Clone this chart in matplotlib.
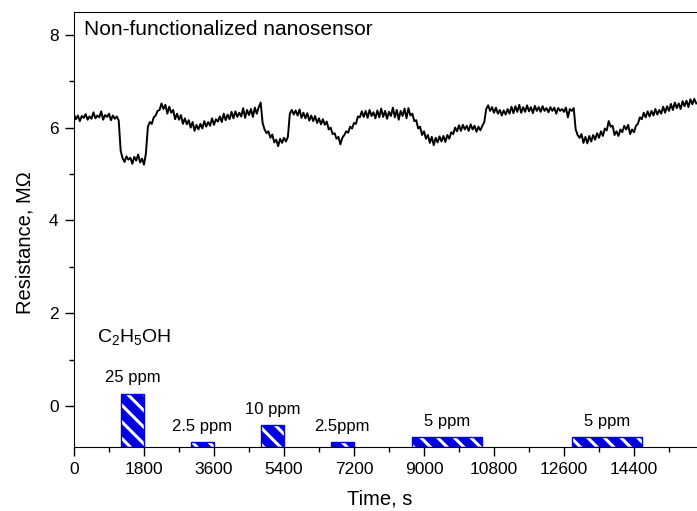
import numpy as np
import matplotlib.pyplot as plt
from matplotlib.ticker import MultipleLocator

plt.rcParams['font.family'] = ['Liberation Sans', 'DejaVu Sans']
plt.rcParams['mathtext.default'] = 'regular'
plt.rcParams['hatch.linewidth'] = 2.2
plt.rcParams['hatch.color'] = 'white'

# Resistance trace (MOhm), one reading every 50 s.
# Each row covers 500 s.
resistance = [
    6.28, 6.18, 6.26, 6.14, 6.25, 6.21, 6.29, 6.17, 6.24, 6.19,   # 0
    6.33, 6.20, 6.26, 6.22, 6.35, 6.17, 6.27, 6.23, 6.30, 6.16,   # 500
    6.26, 6.19, 6.24, 6.15, 5.50, 5.34, 5.26, 5.38, 5.31, 5.35,   # 1000
    5.22, 5.37, 5.29, 5.42, 5.25, 5.33, 5.20, 5.45, 6.02, 6.12,   # 1500
    6.08, 6.22, 6.26, 6.36, 6.38, 6.52, 6.40, 6.49, 6.30, 6.45,   # 2000
    6.32, 6.38, 6.18, 6.30, 6.17, 6.27, 6.08, 6.20, 6.07, 6.16,   # 2500
    6.00, 6.12, 5.93, 6.06, 5.96, 6.08, 5.98, 6.14, 6.02, 6.12,   # 3000
    6.04, 6.20, 6.06, 6.18, 6.13, 6.24, 6.12, 6.30, 6.16, 6.28,   # 3500
    6.18, 6.34, 6.20, 6.35, 6.23, 6.32, 6.24, 6.42, 6.21, 6.38,   # 4000
    6.27, 6.40, 6.23, 6.43, 6.30, 6.44, 6.54, 6.10, 5.96, 5.88,   # 4500
    5.92, 5.78, 5.85, 5.68, 5.74, 5.60, 5.76, 5.67, 5.78, 5.70,   # 5000
    5.80, 6.30, 6.38, 6.28, 6.37, 6.26, 6.39, 6.21, 6.32, 6.20,   # 5500
    6.31, 6.15, 6.26, 6.14, 6.25, 6.10, 6.20, 6.07, 6.18, 6.06,   # 6000
    6.13, 5.96, 6.00, 5.86, 5.88, 5.76, 5.80, 5.64, 5.78, 5.84,   # 6500
    5.92, 5.89, 6.02, 5.98, 6.10, 6.08, 6.24, 6.22, 6.35, 6.23,   # 7000
    6.36, 6.21, 6.38, 6.25, 6.33, 6.20, 6.37, 6.22, 6.41, 6.23,   # 7500
    6.36, 6.19, 6.34, 6.25, 6.43, 6.22, 6.38, 6.17, 6.36, 6.25,   # 8000
    6.41, 6.20, 6.42, 6.26, 6.30, 6.14, 6.16, 5.98, 6.02, 5.84,   # 8500
    5.92, 5.76, 5.84, 5.67, 5.80, 5.62, 5.78, 5.68, 5.81, 5.70,   # 9000
    5.82, 5.69, 5.84, 5.76, 5.90, 5.86, 6.00, 5.92, 6.05, 5.93,   # 9500
    6.06, 5.96, 6.04, 5.93, 6.07, 5.96, 6.04, 5.91, 6.02, 5.94,   # 10000
    6.04, 6.12, 6.40, 6.48, 6.36, 6.44, 6.32, 6.43, 6.30, 6.38,   # 10500
    6.26, 6.37, 6.28, 6.40, 6.30, 6.45, 6.31, 6.46, 6.34, 6.49,   # 11000
    6.32, 6.44, 6.34, 6.48, 6.35, 6.44, 6.31, 6.47, 6.36, 6.44,   # 11500
    6.34, 6.46, 6.36, 6.42, 6.33, 6.44, 6.36, 6.43, 6.30, 6.42,   # 12000
    6.36, 6.40, 6.34, 6.43, 6.22, 6.40, 6.36, 6.42, 5.96, 5.84,   # 12500
    5.78, 5.86, 5.67, 5.80, 5.66, 5.82, 5.70, 5.84, 5.74, 5.88,   # 13000
    5.78, 5.92, 5.82, 5.98, 5.94, 6.14, 6.02, 6.04, 5.84, 5.92,   # 13500
    5.82, 5.96, 5.90, 6.04, 5.96, 6.06, 5.86, 5.96, 5.90, 6.04,   # 14000
    6.08, 6.22, 6.18, 6.32, 6.22, 6.35, 6.24, 6.36, 6.26, 6.40,   # 14500
    6.28, 6.38, 6.30, 6.45, 6.32, 6.46, 6.36, 6.51, 6.38, 6.54,   # 15000
    6.42, 6.52, 6.40, 6.57, 6.46, 6.58, 6.44, 6.61, 6.50, 6.62,   # 15500
    6.52,                                                         # 16000
]
time_s = np.arange(len(resistance)) * 50

# Gas pulses: start, end (s), bar top (axis units), label
pulse_start = [1200, 3000, 4800, 6600, 8700, 12800]
pulse_end = [1800, 3600, 5400, 7200, 10500, 14600]
pulse_top = [0.27, -0.78, -0.415, -0.78, -0.66, -0.66]
pulse_label = ['25 ppm', '2.5 ppm', '10 ppm', '2.5ppm', '5 ppm', '5 ppm']

y_bottom = -0.88

fig = plt.figure(figsize=(6.97, 5.11), dpi=100)
ax = fig.add_axes([74 / 697, 64 / 511, 623 / 697, 435 / 511])

ax.plot(time_s, resistance, color='black', linewidth=1.4)

starts = np.array(pulse_start)
widths = np.array(pulse_end) - starts
heights = np.array(pulse_top) - y_bottom
ax.bar(starts, heights, width=widths, bottom=y_bottom, align='edge',
       color='#0000e0', edgecolor='white', hatch='\\\\', linewidth=0)
ax.bar(starts, heights, width=widths, bottom=y_bottom, align='edge',
       fill=False, edgecolor='#0000e0', linewidth=1)

for s, e, top, lab in zip(pulse_start, pulse_end, pulse_top, pulse_label):
    ax.text((s + e) / 2, top + 0.34, lab, ha='center', va='center', fontsize=12)

ax.text(590, 1.5, 'C$_2$H$_5$OH', fontsize=14, va='center', ha='left')
ax.text(257, 8.11, 'Non-functionalized nanosensor', fontsize=15,
        va='center', ha='left')

ax.set_xlim(0, 16020)
ax.set_ylim(y_bottom, 8.49)
ax.xaxis.set_major_locator(MultipleLocator(1800))
ax.xaxis.set_minor_locator(MultipleLocator(900))
ax.yaxis.set_major_locator(MultipleLocator(2))
ax.yaxis.set_minor_locator(MultipleLocator(1))
ax.tick_params(which='major', length=6.5, width=1, labelsize=12.5, pad=4.5)
ax.tick_params(which='minor', length=3.5, width=1)
ax.spines['right'].set_visible(False)

ax.set_xlabel('Time, s', fontsize=14.5)
ax.set_ylabel('Resistance, MΩ', fontsize=14.5)
ax.xaxis.set_label_coords(0.491, -0.0966)
ax.yaxis.set_label_coords(-0.064, 0.469)

fig.savefig('out.png', dpi=100)
